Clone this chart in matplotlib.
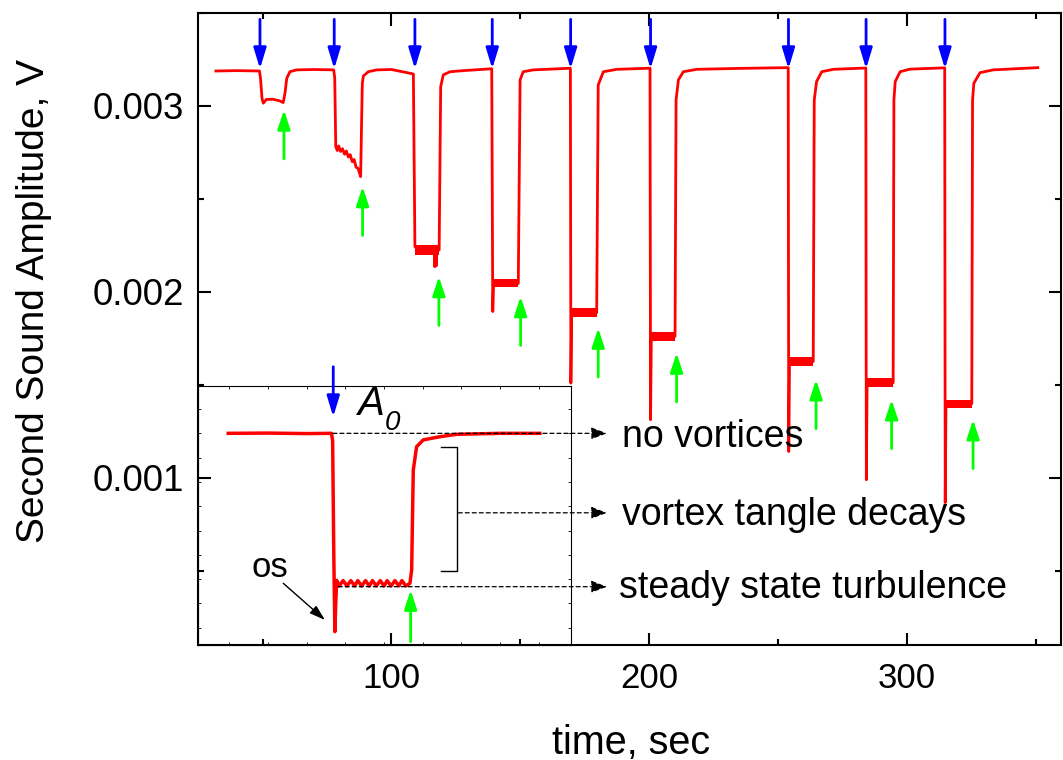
import matplotlib.pyplot as plt
from matplotlib.ticker import MultipleLocator, FormatStrFormatter

plt.rcParams['font.family'] = 'Liberation Sans'

# second sound amplitude trace (time in sec, amplitude in V)
t_sec = [31.9, 40.0, 48.8,
         49.2, 49.8, 50.3, 51.5, 54.0, 56.5, 58.0, 58.7, 59.4, 60.6, 63.2, 70.0, 77.6,
         78.0, 78.4, 79.0, 79.5, 80.3, 81.0, 81.8, 82.5, 83.3, 84.0, 84.8, 85.5, 86.3, 87.0, 87.6, 88.05,
         88.4, 88.7, 89.1, 91.0, 94.3, 100.0, 108.5,
         109.1, 110.0, 112.0, 114.0, 116.6, 116.8, 117.0, 117.4, 117.6, 118.5,
         119.1, 120.1, 122.7, 127.9, 138.9,
         139.3, 139.6, 144.0, 149.2, 149.9, 151.1, 155.0, 165.0, 169.4,
         169.6, 169.9, 175.0, 179.6, 180.2, 182.2, 187.4, 200.3,
         200.5, 200.8, 205.0, 210.0, 210.4, 211.3, 213.2, 218.4, 235.0, 253.9,
         254.1, 254.4, 259.0, 263.6, 264.0, 264.9, 266.9, 271.4, 284.0,
         284.2, 284.5, 289.5, 294.6, 294.9, 295.4, 297.3, 301.1, 314.6,
         314.8, 315.1, 320.0, 325.1, 325.4, 325.9, 328.3, 333.4, 350.7]
amp_v = [0.003188, 0.003190, 0.003188,
         0.003150, 0.003040, 0.003015, 0.003035, 0.003036, 0.003028, 0.003018, 0.003068, 0.003149,
         0.003184, 0.003194, 0.003196, 0.003194,
         0.003150, 0.002781, 0.002760, 0.002785, 0.002755, 0.002770, 0.002740, 0.002758, 0.002725,
         0.002738, 0.002700, 0.002712, 0.002670, 0.002665, 0.002640, 0.002620,
         0.002900, 0.003122, 0.003161, 0.003184, 0.003194, 0.003196, 0.003172,
         0.002244, 0.002230, 0.002225, 0.002222, 0.002220, 0.002135, 0.002215, 0.002140, 0.002220, 0.002225,
         0.003104, 0.003167, 0.003184, 0.003190, 0.003200,
         0.001894, 0.002045, 0.002050, 0.002045, 0.003140, 0.003184, 0.003194, 0.003200, 0.003203,
         0.001509, 0.001887, 0.001890, 0.001887, 0.003113, 0.003184, 0.003197, 0.003203,
         0.001312, 0.001760, 0.001762, 0.001760, 0.003032, 0.003140, 0.003184, 0.003197, 0.003202, 0.003206,
         0.001141, 0.001625, 0.001628, 0.001625, 0.003032, 0.003131, 0.003184, 0.003197, 0.003204,
         0.000989, 0.001510, 0.001512, 0.001510, 0.003032, 0.003131, 0.003184, 0.003198, 0.003205,
         0.000866, 0.001398, 0.001400, 0.001398, 0.003032, 0.003122, 0.003179, 0.003194, 0.003206]

# noisy steady-state plateaus: start, end, mean level, noise half-width
plat_start = [109.3, 139.6, 169.9, 200.8, 254.4, 284.5, 315.1]
plat_end = [118.5, 149.2, 179.6, 210.0, 263.6, 294.6, 325.1]
plat_level = [0.002226, 0.002047, 0.001887, 0.001760, 0.001625, 0.001510, 0.001398]
plat_noise = [0.000026, 0.000020, 0.000024, 0.000026, 0.000026, 0.000024, 0.000022]

# grid switched on (blue arrows) and off (green arrows)
t_on = [49.0, 77.8, 109.1, 139.1, 169.5, 200.5, 254.0, 284.1, 314.7]
t_off = [58.3, 88.8, 118.4, 150.1, 180.2, 210.6, 264.7, 294.0, 325.6]
off_tip = [0.0029785, 0.0025662, 0.0020823, 0.0019748, 0.0018049, 0.0016706,
           0.001527, 0.0014195, 0.001312]

# inset: one cycle, amplitude normalised to A0
ins_t = [4.86, 10.0, 15.0, 18.2, 18.35, 18.5, 18.64, 18.75, 18.87,
         19.2, 19.7, 20.2, 20.7, 21.2, 21.6, 22.1, 22.6, 23.1, 23.5, 24.0,
         24.5, 25.0, 25.4, 25.9, 26.4, 26.9, 27.3, 27.8, 28.34,
         28.56, 28.77, 29.2, 30.06, 32.2, 34.37, 40.0, 45.13]
ins_a = [1.0, 1.001, 0.999, 1.0, 0.97, 0.5, 0.184, 0.30, 0.395,
         0.372, 0.394, 0.372, 0.394, 0.372, 0.394, 0.372, 0.394, 0.372, 0.394, 0.372,
         0.394, 0.372, 0.394, 0.372, 0.394, 0.372, 0.394, 0.372, 0.383,
         0.438, 0.849, 0.945, 0.973, 0.986, 0.996, 1.0, 1.0]

RED = '#ff0000'
BLUE = '#0000ff'
GREEN = '#00ff00'


def arrow(axis, xy, xytext, color, lw=2.0, hl=1.25, hw=0.38, ls='-'):
    axis.annotate('', xy=xy, xytext=xytext, annotation_clip=False,
                  arrowprops=dict(arrowstyle='-|>,head_length=%s,head_width=%s' % (hl, hw),
                                  color=color, lw=lw, linestyle=ls,
                                  shrinkA=0, shrinkB=0, mutation_scale=10))


fig = plt.figure(figsize=(10.63, 7.6), dpi=100)
ax = fig.add_axes([0.1866, 0.1513, 0.8115, 0.8316])

ax.plot(t_sec, amp_v, color=RED, lw=2.0, zorder=3)
for s, e, lvl, hw in zip(plat_start, plat_end, plat_level, plat_noise):
    ax.fill_between([s, e], lvl - hw, lvl + hw, color=RED, lw=0, zorder=3)

for t in t_on:
    arrow(ax, (t, 0.0032), (t, 0.003466), BLUE)
for t, tip in zip(t_off, off_tip):
    arrow(ax, (t, tip), (t, tip - 0.000263), GREEN, hl=1.15)

ax.set_xlim(25.1, 359.7)
ax.set_ylim(0.0001, 0.0035)
ax.xaxis.set_major_locator(MultipleLocator(100))
ax.xaxis.set_minor_locator(MultipleLocator(50))
ax.yaxis.set_major_locator(MultipleLocator(0.001))
ax.yaxis.set_minor_locator(MultipleLocator(0.0005))
ax.yaxis.set_major_formatter(FormatStrFormatter('%.3f'))
ax.tick_params(which='both', direction='in', top=True, right=True, width=1.5)
ax.tick_params(which='major', length=9)
ax.tick_params(which='minor', length=4.5)
ax.tick_params(axis='x', labelsize=25, pad=12)
ax.tick_params(axis='y', labelsize=26.5, pad=10)
for sp in ax.spines.values():
    sp.set_linewidth(1.5)

ax.set_xlabel('time, sec', fontsize=28.5)
ax.set_ylabel('Second Sound Amplitude, V', fontsize=28)
ax.xaxis.set_label_coords(0.5015, -0.125)
ax.yaxis.set_label_coords(-0.170, 0.545)

# inset with a single on/off cycle
axin = fig.add_axes([0.1866, 0.1513, 0.3502, 0.3412])
axin.set_facecolor('none')
axin.plot(ins_t, ins_a, color=RED, lw=2.5)
axin.set_xlim(1, 49.1)
axin.set_ylim(0.129, 1.196)
axin.xaxis.set_major_locator(MultipleLocator(5))
axin.yaxis.set_major_locator(MultipleLocator(0.1))
axin.tick_params(which='both', direction='in', top=True, right=True, length=2.5, width=0.6,
                 labelbottom=False, labelleft=False)
for sp in axin.spines.values():
    sp.set_linewidth(0.8)

arrow(axin, (18.43, 1.068), (18.43, 1.274), BLUE)
arrow(axin, (28.43, 0.355), (28.43, 0.143), GREEN, hl=1.15)
# A0 label, subscript drawn as its own text
axin.text(21.6, 1.076, 'A', fontsize=29, fontstyle='italic', va='baseline')
axin.text(25.1, 1.014, '0', fontsize=20, fontstyle='italic', va='baseline')

dash = (0, (3.2, 2.4))
arrow(axin, (53.79, 1.0), (18.39, 1.0), 'k', lw=0.9, hl=0.95, hw=0.36, ls=dash)
arrow(axin, (53.79, 0.673), (34.58, 0.673), 'k', lw=0.9, hl=0.95, hw=0.36, ls=dash)
arrow(axin, (53.79, 0.369), (19.07, 0.369), 'k', lw=0.9, hl=0.95, hw=0.36, ls=dash)
axin.plot([32.3, 34.37, 34.37, 32.3], [0.943, 0.943, 0.434, 0.434], color='k', lw=1, clip_on=False)

axin.text(7.89, 0.408, 'os', fontsize=25, va='baseline')
arrow(axin, (17.36, 0.232), (11.97, 0.383), 'k', lw=1.0, hl=0.95, hw=0.3)

axin.text(55.69, 0.942, 'no vortices', fontsize=27, va='baseline')
axin.text(55.69, 0.623, 'vortex tangle decays', fontsize=27, va='baseline')
axin.text(55.38, 0.321, 'steady state turbulence', fontsize=27, va='baseline')

fig.savefig('out.png', dpi=100)
